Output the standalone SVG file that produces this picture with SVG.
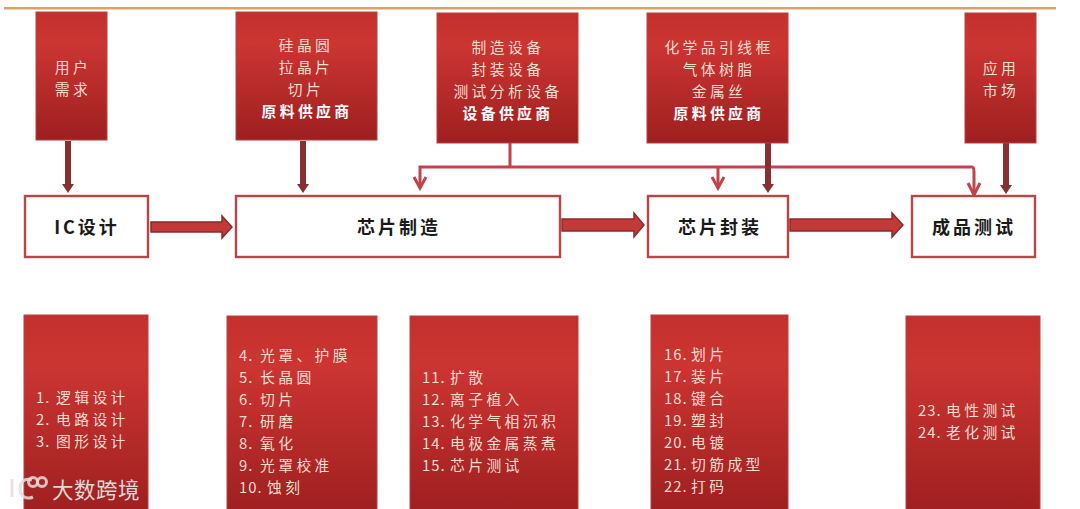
<svg xmlns="http://www.w3.org/2000/svg" width="1080" height="509" viewBox="0 0 1080 509">
<style>
.r{stroke:#b8403e;stroke-width:1;fill:url(#g)}
.w{fill:#fff;stroke:#bb4444;stroke-width:2.4}
text{font-family:"Noto Sans CJK SC","Noto Sans",sans-serif;}
.t{font-size:14.8px;fill:#f7dcd0;letter-spacing:3.4px;text-anchor:middle}
.b{font-size:14.8px;fill:#fff;font-weight:700;letter-spacing:3.4px;text-anchor:middle}
.l{font-size:14.8px;fill:#f7dcd0;letter-spacing:3.4px}
.n{letter-spacing:1px}
.h{font-size:18px;fill:#1a1a1a;font-weight:700;letter-spacing:3px;text-anchor:middle}
.thin{fill:none;stroke:#c0454a;stroke-width:3}
.thick{fill:none;stroke:#863034;stroke-width:6}
.big{fill:#c23a38;stroke:#8a2a2c;stroke-width:1.5}
.logo{fill:none;stroke:#e4dedb;stroke-width:3;opacity:.85}
</style>
<defs>
<linearGradient id="g" x1="0" y1="0" x2="0" y2="1"><stop offset="0" stop-color="#c4302d"/><stop offset=".25" stop-color="#cb3532"/><stop offset="1" stop-color="#9e1f20"/></linearGradient>
</defs>
<rect x="4" y="7" width="1052" height="2.5" fill="#dca25f"/>
<g id="connectors">
<path class="thick" d="M68 141V186"/><path d="M62 184H74L68 193Z" fill="#863034"/>
<path class="thick" d="M303 141V186"/><path d="M297 184H309L303 193Z" fill="#863034"/>
<path class="thin" d="M510 143V167"/>
<path class="thin" d="M420 186V167H972Q974 167 974 172V194M718 167V188"/>
<path class="thin" d="M414 177L420 188L426 177M712 177L718 188L724 177M968 183L974 195L980 183"/>
<path class="thick" d="M768 143V186"/><path d="M762 184H774L768 193Z" fill="#863034"/>
<path class="thick" d="M1006 143V187"/><path d="M1000 185H1012L1006 194Z" fill="#863034"/>
<path class="big" d="M151 222H222V216L232 227L222 238V232H151Z"/>
<path class="big" d="M562 219H634V213L644 225L634 237V231H562Z"/>
<path class="big" d="M790 219H892V213L903 225L892 237V231H790Z"/>
</g>
<g id="n-user"><rect class="r" x="36" y="12" width="71" height="128"/><text class="t" x="73" y="73">用户</text><text class="t" x="73" y="95">需求</text></g>
<g id="n-wafer"><rect class="r" x="236" y="12" width="141" height="128"/><text class="t" x="306" y="51">硅晶圆</text><text class="t" x="306" y="73">拉晶片</text><text class="t" x="306" y="95">切片</text><text class="b" x="307" y="117">原料供应商</text></g>
<g id="n-equip"><rect class="r" x="437" y="13" width="141" height="130"/><text class="t" x="508" y="53">制造设备</text><text class="t" x="508" y="75">封装设备</text><text class="t" x="508" y="97">测试分析设备</text><text class="b" x="508" y="119">设备供应商</text></g>
<g id="n-material"><rect class="r" x="647" y="13" width="141" height="130"/><text class="t" x="719" y="53">化学品引线框</text><text class="t" x="719" y="75">气体树脂</text><text class="t" x="719" y="97">金属丝</text><text class="b" x="719" y="119">原料供应商</text></g>
<g id="n-market"><rect class="r" x="965" y="13" width="71" height="130"/><text class="t" x="1001" y="74">应用</text><text class="t" x="1001" y="96">市场</text></g>
<g id="n-ic"><rect class="w" x="25" y="196" width="123" height="61"/><text class="h" x="87" y="234">IC设计</text></g>
<g id="n-fab"><rect class="w" x="236" y="196" width="324" height="61"/><text class="h" x="399" y="234">芯片制造</text></g>
<g id="n-pack"><rect class="w" x="648" y="196" width="140" height="61"/><text class="h" x="720" y="234">芯片封装</text></g>
<g id="n-test"><rect class="w" x="912" y="196" width="123" height="61"/><text class="h" x="974" y="234">成品测试</text></g>
<g id="n-list1"><rect class="r" x="24" y="315" width="124" height="200"/><text class="l" x="36" y="403"><tspan class="n">1. </tspan><tspan x="56">逻辑设计</tspan></text><text class="l" x="36" y="425"><tspan class="n">2. </tspan><tspan x="56">电路设计</tspan></text><text class="l" x="36" y="447"><tspan class="n">3. </tspan><tspan x="56">图形设计</tspan></text></g>
<g id="n-list2"><rect class="r" x="227" y="316" width="150" height="200"/><text class="l" x="239" y="361"><tspan class="n">4. </tspan><tspan x="260">光罩、护膜</tspan></text><text class="l" x="239" y="383"><tspan class="n">5. </tspan><tspan x="260">长晶圆</tspan></text><text class="l" x="239" y="405"><tspan class="n">6. </tspan><tspan x="260">切片</tspan></text><text class="l" x="239" y="427"><tspan class="n">7. </tspan><tspan x="260">研磨</tspan></text><text class="l" x="239" y="449"><tspan class="n">8. </tspan><tspan x="260">氧化</tspan></text><text class="l" x="239" y="471"><tspan class="n">9. </tspan><tspan x="260">光罩校准</tspan></text><text class="l" x="239" y="493"><tspan class="n">10. </tspan><tspan x="267">蚀刻</tspan></text></g>
<g id="n-list3"><rect class="r" x="410" y="316" width="168" height="200"/><text class="l" x="422" y="383"><tspan class="n">11. </tspan><tspan x="450">扩散</tspan></text><text class="l" x="422" y="405"><tspan class="n">12. </tspan><tspan x="450">离子植入</tspan></text><text class="l" x="422" y="427"><tspan class="n">13. </tspan><tspan x="450">化学气相沉积</tspan></text><text class="l" x="422" y="449"><tspan class="n">14. </tspan><tspan x="450">电极金属蒸煮</tspan></text><text class="l" x="422" y="471"><tspan class="n">15. </tspan><tspan x="450">芯片测试</tspan></text></g>
<g id="n-list4"><rect class="r" x="651" y="315" width="137" height="200"/><text class="l" x="664" y="360"><tspan class="n">16. </tspan><tspan x="691">划片</tspan></text><text class="l" x="664" y="382"><tspan class="n">17. </tspan><tspan x="691">装片</tspan></text><text class="l" x="664" y="404"><tspan class="n">18. </tspan><tspan x="691">键合</tspan></text><text class="l" x="664" y="426"><tspan class="n">19. </tspan><tspan x="691">塑封</tspan></text><text class="l" x="664" y="448"><tspan class="n">20. </tspan><tspan x="691">电镀</tspan></text><text class="l" x="664" y="470"><tspan class="n">21. </tspan><tspan x="691">切筋成型</tspan></text><text class="l" x="664" y="492"><tspan class="n">22. </tspan><tspan x="691">打码</tspan></text></g>
<g id="n-list5"><rect class="r" x="906" y="316" width="134" height="200"/><text class="l" x="918" y="416"><tspan class="n">23. </tspan><tspan x="946">电性测试</tspan></text><text class="l" x="918" y="438"><tspan class="n">24. </tspan><tspan x="946">老化测试</tspan></text></g>
<g id="watermark"><path class="logo" d="M12 479V497M32 480C24 477 20 483 20 489C20 496 26 500 33 497"/><circle class="logo" cx="33" cy="482" r="4.5"/><circle class="logo" cx="42" cy="482" r="4.5"/><text x="52" y="498" font-size="21.5" fill="#e0d8d4" letter-spacing="0.5">大数跨境</text></g>
</svg>
